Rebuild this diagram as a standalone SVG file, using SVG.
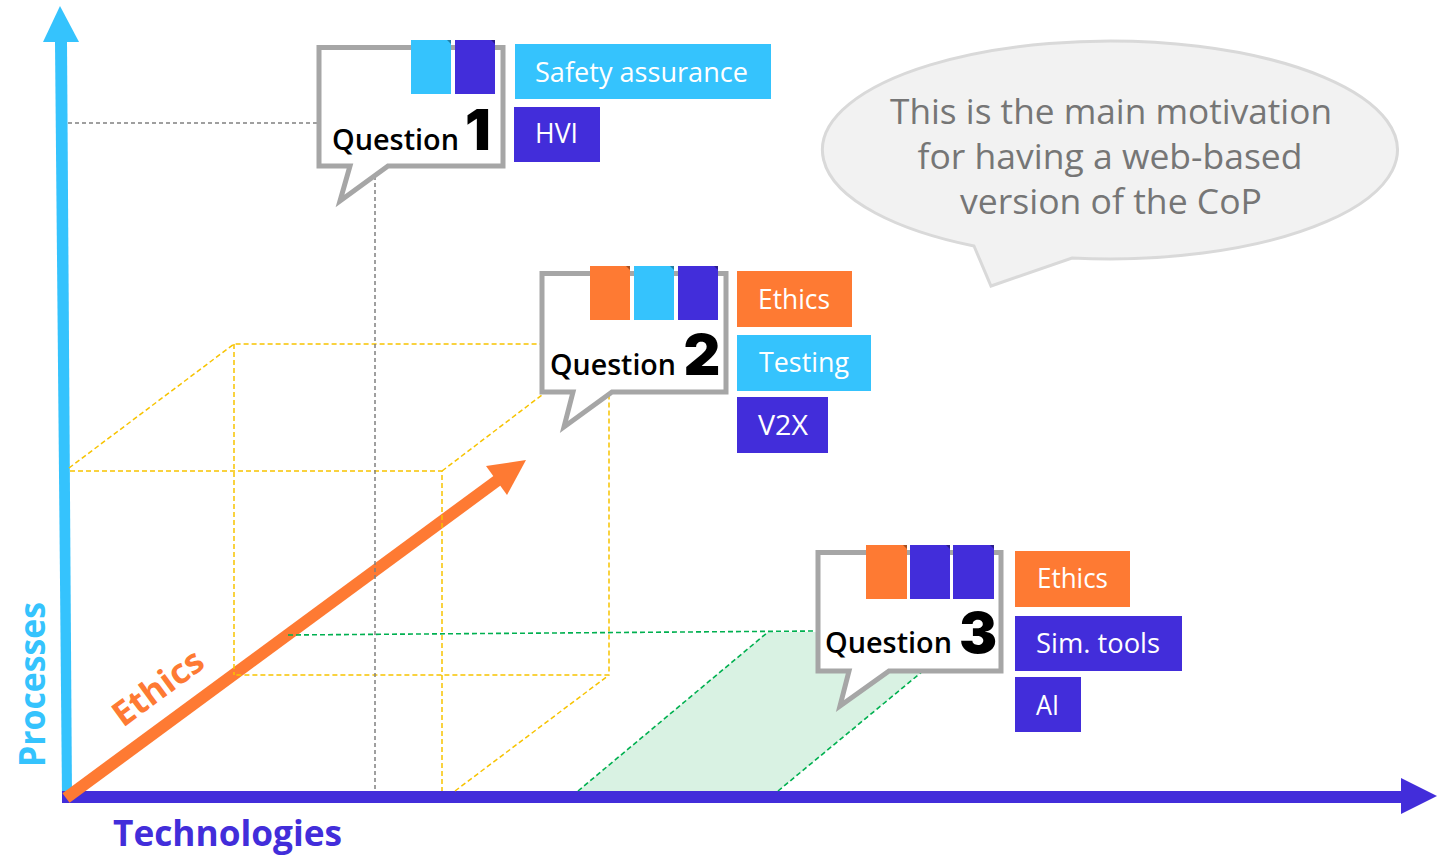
<svg xmlns="http://www.w3.org/2000/svg" width="1451" height="856" viewBox="0 0 1451 856">
<defs>
<style>
.lb{fill:#35C3FD}
.db{fill:#422DDA}
.or{fill:#FE7A33}
.bub{fill:#fff;stroke:#A6A6A6;stroke-width:5;stroke-linejoin:miter}
.q{font-family:"Open Sans","Liberation Sans",sans-serif;font-weight:600;font-size:28px;fill:#000}
.num{font-family:Inter,Roboto,"Open Sans",sans-serif;font-weight:900;font-size:57px;fill:#000;text-anchor:middle}
.lt{font-family:"Open Sans","Liberation Sans",sans-serif;font-size:27px;fill:#fff}
.ax{font-family:"Open Sans","Liberation Sans",sans-serif;font-weight:700}
.ydash{fill:none;stroke:#F7C300;stroke-width:1.5;stroke-dasharray:5 3}
.gdash{fill:none;stroke:#808080;stroke-width:1.5;stroke-dasharray:4 3}
.grdash{fill:none;stroke:#00B050;stroke-width:1.6;stroke-dasharray:5 3}
.fold{fill:#000;fill-opacity:0.35}
.ct{font-family:"Open Sans","Liberation Sans",sans-serif;font-size:35px;fill:#767676;text-anchor:middle}
</style>
</defs>
<rect width="1451" height="856" fill="#fff"/>

<g id="axes">
<polygon class="lb" points="55,42 67,42 72,797 62,797"/>
<polygon class="lb" points="60,6 79,42 43,42"/>
<rect class="db" x="62" y="791" width="1340" height="12"/>
<polygon class="db" points="1401,778 1437,796 1401,814"/>
<line x1="66" y1="798" x2="498" y2="480" stroke="#FE7A33" stroke-width="12"/>
<polygon class="or" points="526,460 486,466 507,495"/>
</g>

<g id="connectors">
<polygon points="578,791 768,632 970,632 778,791" fill="#D9F2E3"/>
<path class="ydash" d="M70,471 H442 V791 M69,468 L234,344 H609 V675 H234 M234,344 V675 M442,471 L609,344 M455,791 L609,675"/>
<path class="gdash" d="M68,123 H317 M375,169 V791"/>
<path class="grdash" d="M288,635 L816,631 M578,791 L768,632 M778,791 L970,632"/>
</g>

<g id="q1">
<path class="bub" d="M319,47.5 H503 V166 H388 L340,201 L350,166 H319 Z"/>
<rect class="lb" x="411" y="40" width="40" height="54"/>
<rect class="db" x="455" y="40" width="40" height="54"/>
<path class="fold" d="M447,40 H451 V44 Z M491,40 H495 V44 Z"/>
<text class="q" x="332" y="150" textLength="127" lengthAdjust="spacingAndGlyphs">Question</text>
<text class="num" x="478" y="150">1</text>
<rect class="lb" x="515" y="44" width="256" height="55"/>
<text class="lt" x="535" y="82" textLength="213" lengthAdjust="spacingAndGlyphs">Safety assurance</text>
<rect class="db" x="514" y="107" width="86" height="55"/>
<text class="lt" x="535" y="143" textLength="43" lengthAdjust="spacingAndGlyphs">HVI</text>
</g>

<g id="q2">
<path class="bub" d="M542,273.5 H726 V392 H612 L564,427 L573,392 H542 Z"/>
<rect class="or" x="590" y="266" width="40" height="54"/>
<rect class="lb" x="634" y="266" width="40" height="54"/>
<rect class="db" x="678" y="266" width="40" height="54"/>
<path class="fold" d="M626,266 H630 V270 Z M670,266 H674 V270 Z M714,266 H718 V270 Z"/>
<text class="q" x="550" y="375" textLength="126" lengthAdjust="spacingAndGlyphs">Question</text>
<text class="num" x="702" y="375">2</text>
<rect class="or" x="737" y="271" width="115" height="56"/>
<text class="lt" x="758" y="309" textLength="72" lengthAdjust="spacingAndGlyphs">Ethics</text>
<rect class="lb" x="737" y="335" width="134" height="56"/>
<text class="lt" x="759" y="372" textLength="90" lengthAdjust="spacingAndGlyphs">Testing</text>
<rect class="db" x="737" y="397" width="91" height="56"/>
<text class="lt" x="758" y="435" textLength="50" lengthAdjust="spacingAndGlyphs">V2X</text>
</g>

<g id="q3">
<path class="bub" d="M818,552.5 H1001 V671 H889 L840,706 L849,671 H818 Z"/>
<rect class="or" x="866" y="545" width="41" height="54"/>
<rect class="db" x="910" y="545" width="40" height="54"/>
<rect class="db" x="953" y="545" width="41" height="54"/>
<path class="fold" d="M903,545 H907 V549 Z M946,545 H950 V549 Z M990,545 H994 V549 Z"/>
<text class="q" x="825" y="653" textLength="127" lengthAdjust="spacingAndGlyphs">Question</text>
<text class="num" x="978" y="653">3</text>
<rect class="or" x="1015" y="551" width="115" height="56"/>
<text class="lt" x="1037" y="588" textLength="71" lengthAdjust="spacingAndGlyphs">Ethics</text>
<rect class="db" x="1015" y="616" width="167" height="55"/>
<text class="lt" x="1036" y="653" textLength="124" lengthAdjust="spacingAndGlyphs">Sim. tools</text>
<rect class="db" x="1015" y="677" width="66" height="55"/>
<text class="lt" x="1036" y="715" textLength="23" lengthAdjust="spacingAndGlyphs">AI</text>
</g>

<g id="callout">
<path d="M974,246 L991,286 L1072,258 A287.5,109 0 1 0 974,246 Z" fill="#F2F2F2" stroke="#D9D9D9" stroke-width="3" stroke-linejoin="miter"/>
<text class="ct" x="1111" y="124" textLength="442" lengthAdjust="spacingAndGlyphs">This is the main motivation</text>
<text class="ct" x="1110" y="169" textLength="385" lengthAdjust="spacingAndGlyphs">for having a web-based</text>
<text class="ct" x="1111" y="214" textLength="302" lengthAdjust="spacingAndGlyphs">version of the CoP</text>
</g>

<g id="labels">
<text class="ax lb" x="45" y="767" font-size="36" transform="rotate(-90 45 767)" textLength="165" lengthAdjust="spacingAndGlyphs">Processes</text>
<text class="ax db" x="113" y="846" font-size="35" textLength="229" lengthAdjust="spacingAndGlyphs">Technologies</text>
<text class="ax or" font-size="34" transform="translate(123,728) rotate(-36.4)" textLength="104" lengthAdjust="spacingAndGlyphs">Ethics</text>
</g>
</svg>
